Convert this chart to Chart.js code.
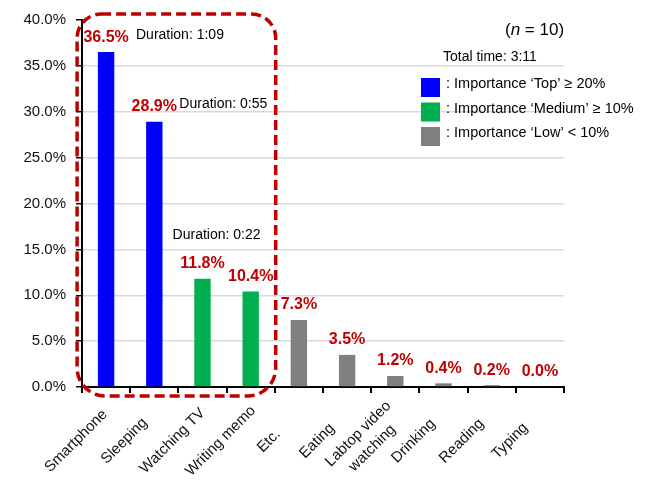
<!DOCTYPE html>
<html>
<head>
<meta charset="utf-8">
<script src="https://cdn.jsdelivr.net/npm/chart.js@4.4.1/dist/chart.umd.min.js"></script>
<style>
  html, body { margin: 0; padding: 0; background: #fff; }
  #wrap { width: 652px; height: 487px; position: relative; }
</style>
</head>
<body>
<div id="wrap"><canvas id="c" width="652" height="487"></canvas></div>
<script>
// Activities and their share of total time (%)
const categories = [
  'Smartphone', 'Sleeping', 'Watching TV', 'Writing memo', 'Etc.',
  'Eating', ['Labtop video', 'watching'], 'Drinking', 'Reading', 'Typing'
];
const shares = [36.5, 28.9, 11.8, 10.4, 7.3, 3.5, 1.2, 0.4, 0.2, 0.0];
const yTicks = [0, 5, 10, 15, 20, 25, 30, 35, 40];

// Duration notes: [category position, share level, text]
const durationNotes = [
  [0.62, 38.3, 'Duration: 1:09'],
  [1.52, 30.8, 'Duration: 0:55'],
  [1.38, 16.6, 'Duration: 0:22']
];

const importanceLegend = [
  ['#0000ff', ': Importance \u2018Top\u2019 \u2265 20%'],
  ['#00b050', ': Importance \u2018Medium\u2019 \u2265 10%'],
  ['#808080', ': Importance \u2018Low\u2019 < 10%']
];
const sampleSize = 10;
const totalTime = 'Total time: 3:11';

const FONT = '"Liberation Sans", Arial, sans-serif';
const RED = '#c00000';

function importanceColor(v) {
  if (v >= 20) return '#0000ff';
  if (v >= 10) return '#00b050';
  return '#808080';
}

const overlay = {
  id: 'overlay',
  afterDatasetsDraw(chart) {
    const ctx = chart.ctx;
    const x = chart.scales.x, y = chart.scales.y;
    const meta = chart.getDatasetMeta(0);
    ctx.save();
    // value labels above bars
    ctx.fillStyle = RED;
    ctx.font = 'bold 16px ' + FONT;
    ctx.textAlign = 'center';
    ctx.textBaseline = 'middle';
    meta.data.forEach((bar, i) => {
      ctx.fillText(shares[i].toFixed(1) + '%', bar.x, bar.y - 15);
    });
    // duration notes
    ctx.fillStyle = '#000';
    ctx.font = '14px ' + FONT;
    ctx.textAlign = 'left';
    durationNotes.forEach(([cx, cy, t]) => {
      ctx.fillText(t, x.getPixelForValue(cx), y.getPixelForValue(cy));
    });

    // category labels, rotated 45 degrees and centred below each slot
    ctx.fillStyle = '#111';
    ctx.font = '15px ' + FONT;
    ctx.textAlign = 'center';
    categories.forEach((lab, i) => {
      const lines = Array.isArray(lab) ? lab : [lab];
      ctx.save();
      ctx.translate(x.getPixelForValue(i) - 30, x.top + 54);
      ctx.rotate(-Math.PI / 4);
      const lh = 20;
      lines.forEach((ln, k) => {
        ctx.fillText(ln, 0, (k - (lines.length - 1) / 2) * lh);
      });
      ctx.restore();
    });
    ctx.restore();
  },
  afterDraw(chart) {
    const ctx = chart.ctx;
    const x = chart.scales.x, y = chart.scales.y;
    ctx.save();
    // dashed highlight around the first four activities
    const l = x.getPixelForValue(0) - 29;
    const r = x.getPixelForValue(3) + 25;
    const t = y.getPixelForValue(40) - 6;
    const b = y.getPixelForValue(0) + 9;
    ctx.strokeStyle = RED;
    ctx.lineWidth = 3.5;
    ctx.setLineDash([10, 5]);
    ctx.beginPath();
    ctx.roundRect(l, t, r - l, b - t, [24, 24, 28, 28]);
    ctx.stroke();
    ctx.setLineDash([]);

    // sample size
    ctx.fillStyle = '#000';
    ctx.textBaseline = 'middle';
    ctx.textAlign = 'left';
    let px = 505;
    ctx.font = '17px ' + FONT;
    ctx.fillText('(', px, 30); px += ctx.measureText('(').width;
    ctx.font = 'italic 17px ' + FONT;
    ctx.fillText('n', px, 30); px += ctx.measureText('n').width;
    ctx.font = '17px ' + FONT;
    ctx.fillText(' = ' + sampleSize + ')', px, 30);

    // total time
    ctx.font = '14px ' + FONT;
    ctx.fillText(totalTime, 443, 57);

    // importance legend
    importanceLegend.forEach(([c, label], i) => {
      const by = 78 + i * 24.5;
      ctx.fillStyle = c;
      ctx.fillRect(421, by, 19, 19);
      ctx.fillStyle = '#000';
      ctx.font = '14.5px ' + FONT;
      ctx.fillText(label, 446, by + 6);
    });
    ctx.restore();
  }
};

new Chart(document.getElementById('c'), {
  type: 'bar',
  data: {
    labels: categories,
    datasets: [{
      data: shares,
      backgroundColor: shares.map(importanceColor),
      borderWidth: 0,
      barPercentage: 0.34,
      categoryPercentage: 1.0
    }]
  },
  options: {
    responsive: false,
    animation: false,
    layout: { padding: { left: 0, right: 88, top: 20, bottom: 0 } },
    plugins: { legend: { display: false }, tooltip: { enabled: false } },
    scales: {
      x: {
        grid: {
          display: true,
          offset: true,
          drawOnChartArea: false,
          color: '#000',
          tickColor: '#000',
          tickLength: 6,
          lineWidth: 2
        },
        border: { display: true, color: '#000', width: 2 },
        ticks: { display: false, autoSkip: false },
        afterFit(s) { s.height = 100; }
      },
      y: {
        min: 0,
        max: 40,
        afterBuildTicks(s) { s.ticks = yTicks.map(v => ({ value: v })); },
        grid: {
          color: c => (c.tick && (c.tick.value === 40 || c.tick.value === 0)) ? 'rgba(0,0,0,0)' : '#d9d9d9',
          lineWidth: 1.5,
          tickColor: '#000',
          tickLength: 6
        },
        border: { display: true, color: '#000', width: 2 },
        ticks: {
          padding: 10,
          color: '#111',
          font: { family: FONT, size: 15 },
          callback: v => Number(v).toFixed(1) + '%'
        },
        afterFit(s) { s.width = 82; }
      }
    }
  },
  plugins: [overlay]
});
</script>
</body>
</html>
